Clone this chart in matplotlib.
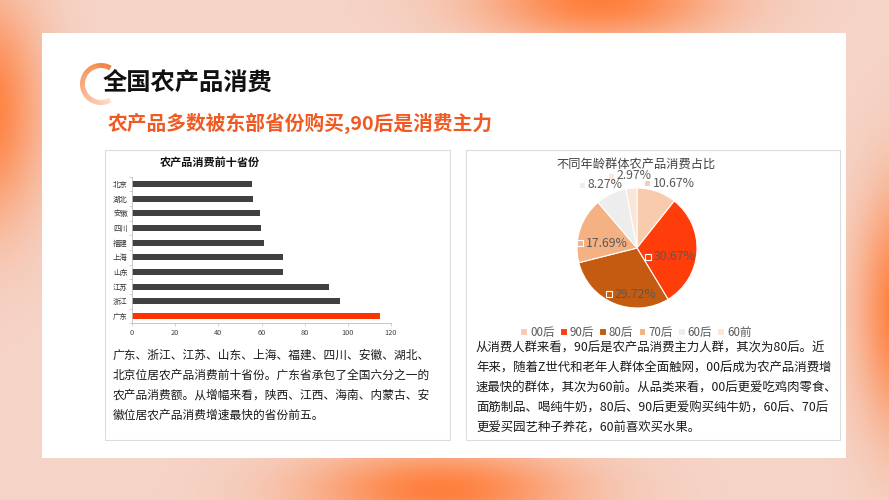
import numpy as np
import matplotlib
matplotlib.use("Agg")
import matplotlib.pyplot as plt
from matplotlib.patches import Rectangle, Wedge

plt.rcParams["font.family"] = ["Noto Sans CJK SC", "DejaVu Sans"]

W, H = 889, 500

# 前十省份
provinces = ["广东", "浙江", "江苏", "山东", "上海", "福建", "四川", "安徽", "湖北", "北京"]
consumption = [115, 96.2, 91.5, 70, 70, 61, 59.8, 59.2, 56, 55.5]
bar_colors = ["#ff3300"] + ["#404040"] * 9
x_ticks = [0, 20, 40, 60, 80, 100, 120]

# 年龄群体占比
age_groups = ["00后", "90后", "80后", "70后", "60后", "60前"]
age_shares = [10.67, 30.67, 29.72, 17.69, 8.27, 2.97]
pie_colors = ["#f8cbad", "#ff3d0a", "#c55a11", "#f4b183", "#ededed", "#fbe5d6"]

left_text = [
    "广东、浙江、江苏、山东、上海、福建、四川、安徽、湖北、",
    "北京位居农产品消费前十省份。广东省承包了全国六分之一的",
    "农产品消费额。从增幅来看，陕西、江西、海南、内蒙古、安",
    "徽位居农产品消费增速最快的省份前五。",
]
right_text = [
    "从消费人群来看，90后是农产品消费主力人群，其次为80后。近",
    "年来，随着Z世代和老年人群体全面触网，00后成为农产品消费增",
    "速最快的群体，其次为60前。从品类来看，00后更爱吃鸡肉零食、",
    "面筋制品、喝纯牛奶，80后、90后更爱购买纯牛奶，60后、70后",
    "更爱买园艺种子养花，60前喜欢买水果。",
]

fig = plt.figure(figsize=(W / 100, H / 100), dpi=100)

# 背景 (像素坐标)
bg = fig.add_axes([0, 0, 1, 1])
bg.set_axis_off()
yy, xx = np.mgrid[0:H, 0:W]
base = np.array([245, 212, 200]) / 255
orange = np.array([255, 128, 62]) / 255
blobs = [(600, 0, 85, 30), (-15, 110, 40, 80), (900, 310, 30, 85), (440, 490, 95, 30)]
glow = np.zeros((H, W))
for cx, cy, sx, sy in blobs:
    glow = np.maximum(glow, np.exp(-((xx - cx) ** 2 / (2 * sx ** 2) + (yy - cy) ** 2 / (2 * sy ** 2))))
img = base * (1 - glow[..., None]) + orange * glow[..., None]
bg.imshow(img, extent=[0, W, H, 0], aspect="auto", zorder=0)
bg.set_xlim(0, W)
bg.set_ylim(H, 0)

bg.add_patch(Rectangle((42, 33), 804, 425, facecolor="white", edgecolor="none", zorder=1))
bg.add_patch(Rectangle((105, 150), 345, 290, facecolor="white", edgecolor="#dcdcdc", lw=0.8, zorder=2))
bg.add_patch(Rectangle((466, 150), 374, 290, facecolor="white", edgecolor="#dcdcdc", lw=0.8, zorder=2))

# 标题装饰圆环
n_seg = 40
angles = np.linspace(60, 300, n_seg + 1)
c0 = np.array([252, 222, 205]) / 255
c1 = np.array([243, 125, 60]) / 255
for i in range(n_seg):
    t = (i / n_seg) ** 0.8
    bg.add_patch(Wedge((101, 84), 21, angles[i], angles[i + 1] + 0.5, width=5,
                       facecolor=c0 * (1 - t) + c1 * t, edgecolor="none", zorder=2))

bg.text(103, 83, "全国农产品消费", fontsize=17.5, fontweight="bold", color="#111111",
        ha="left", va="center", zorder=3)
bg.text(108, 123, "农产品多数被东部省份购买,90后是消费主力", fontsize=14.2, fontweight="bold",
        color="#f05a22", ha="left", va="center", zorder=3)

bg.text(210, 162, "农产品消费前十省份", fontsize=8, fontweight="bold", color="#111111",
        ha="center", va="center", zorder=3)
bg.text(636, 164, "不同年龄群体农产品消费占比", fontsize=8.8, color="#404040",
        ha="center", va="center", zorder=3)

for i, line in enumerate(left_text):
    bg.text(113, 355 + 20 * i, line, fontsize=8.45, color="#1a1a1a", fontweight="medium",
            ha="left", va="center", zorder=3)
for i, line in enumerate(right_text):
    bg.text(476, 348 + 20 * i, line, fontsize=8.95, color="#1a1a1a", fontweight="medium",
            ha="left", va="center", zorder=3)

# 条形图
ax = fig.add_axes([132 / W, 1 - 323.3 / H, (391 - 132) / W, (323.3 - 176.7) / H])
ax.barh(range(len(provinces)), consumption, height=0.42, color=bar_colors)
ax.set_xlim(0, 120)
ax.set_ylim(-0.5, len(provinces) - 0.5)
ax.set_xticks(x_ticks)
ax.set_xticklabels([str(v) for v in x_ticks])
ax.set_yticks(range(len(provinces)))
ax.set_yticklabels(provinces)
ax.set_yticks(np.arange(-0.5, len(provinces), 1), minor=True)
ax.tick_params(axis="y", which="major", length=0, labelsize=5.3, labelcolor="#333333", pad=3)
ax.tick_params(axis="y", which="minor", length=2, width=0.5, color="#bfbfbf")
ax.tick_params(axis="x", length=2, width=0.5, color="#bfbfbf", labelsize=5.3,
               labelcolor="#444444", pad=2)
for s in ["top", "right"]:
    ax.spines[s].set_visible(False)
for s in ["left", "bottom"]:
    ax.spines[s].set_color("#bfbfbf")
    ax.spines[s].set_linewidth(0.6)
ax.patch.set_alpha(0)

# 饼图
R = 60
pax = fig.add_axes([(637 - 100) / W, 1 - (248 + 100) / H, 200 / W, 200 / H])
wedges, _ = pax.pie(age_shares, colors=pie_colors, startangle=90, counterclock=False,
                    radius=1, wedgeprops=dict(edgecolor="white", linewidth=0.8))
pax.set_xlim(-100 / R, 100 / R)
pax.set_ylim(-100 / R, 100 / R)
pax.set_axis_off()

label_pos = [(0.17, 1.08), (0.18, -0.15), (-0.47, -0.77), (-0.95, 0.08), (-0.92, 1.05), (-0.43, 1.2)]
for (lx, ly), v, c in zip(label_pos, age_shares, pie_colors):
    pax.plot(lx, ly, marker="s", markersize=4, markerfacecolor=c, markeredgecolor="white",
             markeredgewidth=0.8, clip_on=False)
    pax.text(lx + 0.09, ly, f"{v:.2f}%", fontsize=8.8, color="#595959", ha="left",
             va="center", clip_on=False)

fig.legend(wedges, age_groups, loc="center", bbox_to_anchor=(636 / W, 1 - 332 / H),
           ncol=6, frameon=False, fontsize=8.3, handlelength=0.6, handleheight=0.6,
           handletextpad=0.25, columnspacing=0.45, labelcolor="#595959",
           borderpad=0.1)

fig.savefig("out.png", dpi=100)
